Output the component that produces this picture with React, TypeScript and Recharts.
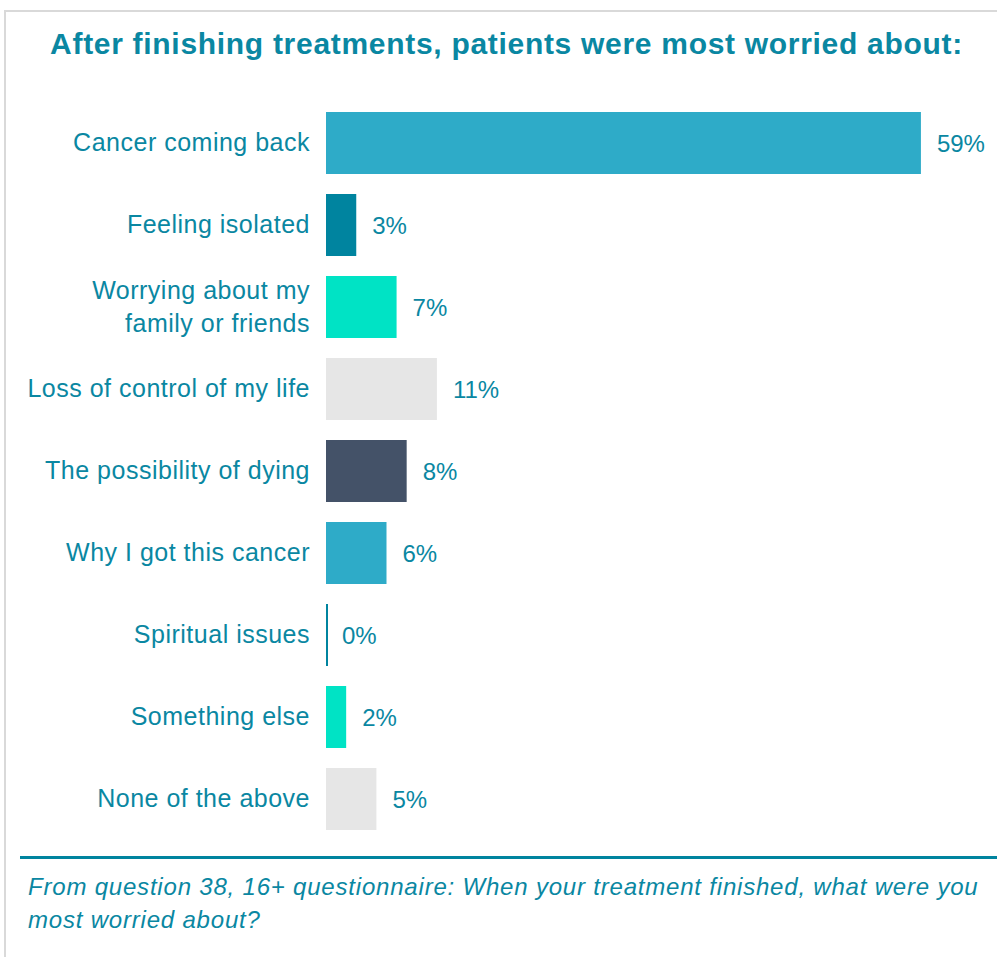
import { BarChart, Bar, XAxis, YAxis, Cell, LabelList } from 'recharts';

const categories = [
    'Cancer coming back',
    'Feeling isolated',
    'Worrying about my\nfamily or friends',
    'Loss of control of my life',
    'The possibility of dying',
    'Why I got this cancer',
    'Spiritual issues',
    'Something else',
    'None of the above',
];

const percents = [59, 3, 7, 11, 8, 6, 0, 2, 5];

const barColors = ['#2eabc8', '#00849f', '#00e3c5', '#e6e6e6', '#445268'];

const data = categories.map((name, i) => ({ name, value: percents[i] }));

const TEAL = '#0a87a2';
const FONT = '"Liberation Sans", Arial, sans-serif';

const CategoryTick = (props: any) => {
    const { x, y, payload } = props;
    const lines: string[] = String(payload.value).split('\n');
    const lh = 33;
    const start = -((lines.length - 1) * lh) / 2;
    return (
        <text
            x={x}
            y={y}
            textAnchor="end"
            fill={TEAL}
            fontSize={25}
            fontFamily={FONT}
            style={{ letterSpacing: 0.5 }}
        >
            {lines.map((l, i) => (
                <tspan key={i} x={x} dy={i === 0 ? start + 8 : lh}>
                    {l}
                </tspan>
            ))}
        </text>
    );
};

// keeps the 0% bar visible as a thin line, like the original
const ThinBar = (props: any) => {
    const { x, y, width, height, fill } = props;
    return <rect x={x} y={y} width={Math.max(width, 2)} height={height} fill={fill} />;
};

const App = () => {
    return (
        <div
            style={{
                position: 'fixed',
                left: 0,
                top: 0,
                width: 997,
                height: 957,
                background: '#fff',
                fontFamily: FONT,
                overflow: 'hidden',
            }}
        >
            <div
                style={{
                    position: 'absolute',
                    left: 4,
                    top: 10,
                    right: -10,
                    bottom: -10,
                    borderLeft: '2px solid #d9d9d9',
                    borderTop: '2px solid #d9d9d9',
                }}
            />
            <div
                style={{
                    position: 'absolute',
                    left: 0,
                    width: 1013,
                    top: 27,
                    textAlign: 'center',
                    color: TEAL,
                    fontWeight: 'bold',
                    fontSize: 30,
                    letterSpacing: 0.7,
                    whiteSpace: 'nowrap',
                }}
            >
                After finishing treatments, patients were most worried about:
            </div>
            <div style={{ position: 'absolute', left: 0, top: 0 }}>
                <BarChart
                    layout="vertical"
                    width={997}
                    height={850}
                    data={data}
                    margin={{ top: 102, right: 66, bottom: 10, left: 0 }}
                    barCategoryGap={10}
                >
                    <XAxis type="number" domain={[0, 60]} hide />
                    <YAxis
                        type="category"
                        dataKey="name"
                        width={326}
                        axisLine={false}
                        tickLine={false}
                        tickSize={0}
                        tickMargin={16}
                        interval={0}
                        tick={<CategoryTick />}
                    />
                    <Bar dataKey="value" isAnimationActive={false} shape={<ThinBar />}>
                        {data.map((d, i) => (
                            <Cell key={d.name} fill={barColors[i % barColors.length]} />
                        ))}
                        <LabelList
                            dataKey="value"
                            position="right"
                            offset={16}
                            formatter={(v: any) => `${v}%`}
                            fill={TEAL}
                            fontSize={24}
                            fontFamily={FONT}
                        />
                    </Bar>
                </BarChart>
            </div>
            <div
                style={{
                    position: 'absolute',
                    left: 20,
                    right: 0,
                    top: 856,
                    height: 3,
                    background: '#00849f',
                }}
            />
            <div
                style={{
                    position: 'absolute',
                    left: 28,
                    width: 980,
                    top: 870,
                    color: TEAL,
                    fontStyle: 'italic',
                    fontSize: 24,
                    letterSpacing: 0.8,
                    lineHeight: '33px',
                    whiteSpace: 'nowrap',
                }}
            >
                From question 38, 16+ questionnaire: When your treatment finished, what were you
                <br />
                most worried about?
            </div>
        </div>
    );
};

export default App;
